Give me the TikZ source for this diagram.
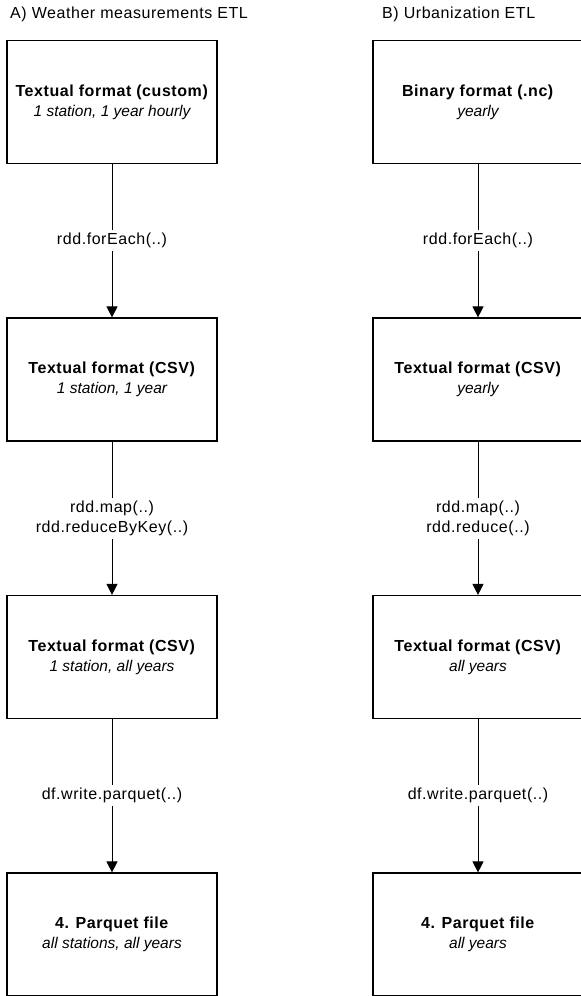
\documentclass[tikz,border=0pt]{standalone}
\usepackage{fontspec}
\setmainfont{Liberation Sans}[LetterSpace=3.5]
\newfontfamily\itfam{Liberation Sans}
\newcommand\subtxt[1]{{\itfam\itshape\fontsize{15.5}{20}\selectfont #1}}
\usetikzlibrary{arrows.meta}
\begin{document}
\begin{tikzpicture}[x=1pt,y=-1pt,
  box/.style={draw=black, line width=1.2pt, minimum width=210pt, minimum height=123pt, inner sep=0pt, align=center, font=\fontsize{16}{20}\selectfont},
  lbl/.style={fill=white, inner sep=3pt, align=center, font=\fontsize{16}{20}\selectfont},
  arr/.style={draw=black, line width=1pt, -{Triangle[width=11pt,length=11pt]}},
  ttl/.style={anchor=west, inner sep=0pt, font=\fontsize{16}{18}\selectfont}]
\useasboundingbox (0,0) rectangle (581,996);
\clip (0,0) rectangle (581,996);
\node[ttl] (ta) at (10,14) {A) Weather measurements ETL};
\node[ttl] (tb) at (382,14) {B) Urbanization ETL};
% column A
\node[box] (a1) at (112,102) {\textbf{Textual format (custom)}\\\subtxt{1 station, 1 year hourly}};
\node[box] (a2) at (112,379.5) {\textbf{Textual format (CSV)}\\\subtxt{1 station, 1 year}};
\node[box] (a3) at (112,657) {\textbf{Textual format (CSV)}\\\subtxt{1 station, all years}};
\node[box] (a4) at (112,934.5) {\textbf{4. Parquet file}\\\subtxt{all stations, all years}};
% column B
\node[box] (b1) at (478,102) {\textbf{Binary format (.nc)}\\\subtxt{yearly}};
\node[box] (b2) at (478,379.5) {\textbf{Textual format (CSV)}\\\subtxt{yearly}};
\node[box] (b3) at (478,657) {\textbf{Textual format (CSV)}\\\subtxt{all years}};
\node[box] (b4) at (478,934.5) {\textbf{4. Parquet file}\\\subtxt{all years}};
% connectors
\draw[arr] (a1) -- node[lbl] {rdd.forEach(..)} (a2);
\draw[arr] (a2) -- node[lbl] {rdd.map(..)\\rdd.reduceByKey(..)} (a3);
\draw[arr] (a3) -- node[lbl] {df.write.parquet(..)} (a4);
\draw[arr] (b1) -- node[lbl] {rdd.forEach(..)} (b2);
\draw[arr] (b2) -- node[lbl] {rdd.map(..)\\rdd.reduce(..)} (b3);
\draw[arr] (b3) -- node[lbl] {df.write.parquet(..)} (b4);
\end{tikzpicture}
\end{document}
